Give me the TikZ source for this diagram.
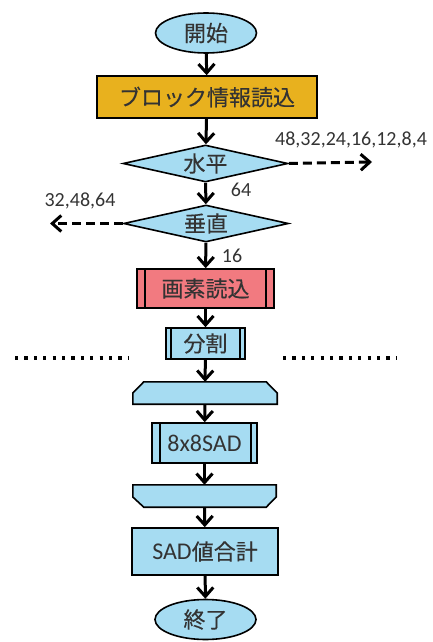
\documentclass[tikz,border=0pt]{standalone}
\usepackage{fontspec}
\setmainfont{Carlito}
\newfontfamily\cjk{Noto Sans CJK JP}[FakeBold=0.3]
\usetikzlibrary{shapes.geometric,arrows.meta}
\definecolor{fblue}{HTML}{A6DCF2}
\definecolor{forange}{HTML}{E8B11E}
\definecolor{fred}{HTML}{F27A80}
\definecolor{ftext}{HTML}{333333}
\newcommand{\latinbig}{\fontsize{24}{26}\selectfont}
\tikzset{
  base/.style={draw=black,line width=1.6pt,text=ftext,inner sep=0pt,font=\fontsize{22}{24}\selectfont},
  term/.style={base,ellipse,fill=fblue,minimum width=101pt,minimum height=40pt},
  proc/.style={base,rectangle,minimum width=#1,minimum height=42pt},
  dec/.style={base,diamond,fill=fblue,minimum width=165pt,minimum height=37pt,aspect=4.4},
  flow/.style={line width=3pt,-{Straight Barb[length=9pt,width=16pt,line width=3pt]}},
  dflow/.style={flow,dash pattern=on 9pt off 5pt},
  lbl/.style={text=ftext,font=\fontsize{20}{22}\selectfont,inner sep=0pt},
  dotline/.style={line width=3.2pt,dash pattern=on 3.2pt off 6.2pt},
  bar/.style={line width=1.6pt},
}
\begin{document}
\begin{tikzpicture}[x=1pt,y=-1pt]
\useasboundingbox (0,0) rectangle (432,642);
% nodes
\node[term] (start) at (206,33) {\cjk 開始};
\node[proc=220pt,fill=forange,minimum height=42pt] (read) at (207,97) {\cjk ブロック情報読込};
\node[dec] (h) at (205.5,163.5) {\cjk 水平};
\node[dec] (v) at (206,223.5) {\cjk 垂直};
\node[proc=137pt,fill=fred,minimum height=39pt] (pix) at (205.5,288.5) {\cjk 画素読込};
\node[proc=79pt,fill=fblue,minimum height=31pt] (div) at (205.5,343.5) {\cjk 分割};
\node[minimum width=144pt,minimum height=22pt,inner sep=0pt] (lt) at (205,393) {};
\node[proc=105pt,fill=fblue,minimum height=40pt] (sad) at (204.5,443) {\latinbig 8x8SAD};
\node[minimum width=143pt,minimum height=22pt,inner sep=0pt] (lb) at (204.5,496) {};
\node[proc=146pt,fill=fblue,minimum height=47pt] (sum) at (205,551.5) {{\latinbig SAD}{\cjk 値合計}};
\node[term] (end) at (205.5,619.5) {\cjk 終了};
% inner bars
\draw[bar] ([xshift=9pt]pix.north west) -- ([xshift=9pt]pix.south west);
\draw[bar] ([xshift=-9pt]pix.north east) -- ([xshift=-9pt]pix.south east);
\draw[bar] ([xshift=6pt]div.north west) -- ([xshift=6pt]div.south west);
\draw[bar] ([xshift=-6pt]div.north east) -- ([xshift=-6pt]div.south east);
\draw[bar] ([xshift=9pt]sad.north west) -- ([xshift=9pt]sad.south west);
\draw[bar] ([xshift=-7pt]sad.north east) -- ([xshift=-7pt]sad.south east);
% loop shapes
\draw[bar,fill=fblue] (lt.south west) -- (lt.west) -- ([xshift=11pt]lt.north west) -- ([xshift=-11pt]lt.north east) -- (lt.east) -- (lt.south east) -- cycle;
\draw[bar,fill=fblue] (lb.north west) -- (lb.north east) -- ([yshift=-1pt]lb.east) -- ([xshift=-10pt]lb.south east) -- ([xshift=11pt]lb.south west) -- ([yshift=-1pt]lb.west) -- cycle;
% connectors
\draw[flow] (start) -- (read);
\draw[flow] (read) -- (h);
\draw[flow] (h) -- (v);
\draw[flow] (v) -- (pix);
\draw[flow] (pix) -- (div);
\draw[flow] (div) -- (lt);
\draw[flow] (lt) -- (sad);
\draw[flow] (sad) -- (lb);
\draw[flow] (lb) -- (sum);
\draw[flow] (sum) -- (end);
\coordinate (hr) at (372,162);
\coordinate (vl) at (50,223.5);
\draw[dflow] (h.east) -- (hr);
\draw[dflow] (v.west) -- (vl);
% labels
\node[lbl] (lh) at (351,140) {48,32,24,16,12,8,4};
\node[lbl] (l64) at (241,190) {64};
\node[lbl] (lv) at (80,201) {32,48,64};
\node[lbl] (l16) at (232,256) {16};
% dotted lines
\coordinate (d1a) at (15,358); \coordinate (d1b) at (128,358);
\coordinate (d2a) at (283,358); \coordinate (d2b) at (397,358);
\draw[dotline] (d1a) -- (d1b);
\draw[dotline] (d2a) -- (d2b);
\end{tikzpicture}
\end{document}
